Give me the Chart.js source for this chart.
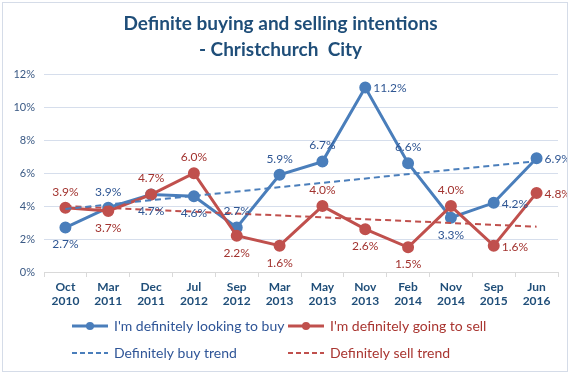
<!DOCTYPE html>
<html>
<head>
<meta charset="utf-8">
<script src="https://cdn.jsdelivr.net/npm/chart.js@4.4.1/dist/chart.umd.min.js"></script>
<style>
html, body { margin: 0; padding: 0; background: #fff; }
#frame { position: absolute; left: 2px; top: 2px; width: 564px; height: 368px; border: 1px solid #d5dce8; }
canvas { display: block; }
</style>
</head>
<body>
<div id="frame"><canvas id="chart" width="564" height="368"></canvas></div>
<script>
// Survey rounds (x axis)
const periods = [
    ['Oct', '2010'], ['Mar', '2011'], ['Dec', '2011'], ['Jul', '2012'],
    ['Sep', '2012'], ['Mar', '2013'], ['May', '2013'], ['Nov', '2013'],
    ['Feb', '2014'], ['Nov', '2014'], ['Sep', '2015'], ['Jun', '2016']
];

// Percent of respondents
const buyValues = [2.7, 3.9, 4.7, 4.6, 2.7, 5.9, 6.7, 11.2, 6.6, 3.3, 4.2, 6.9];
const sellValues = [3.9, 3.7, 4.7, 6.0, 2.2, 1.6, 4.0, 2.6, 1.5, 4.0, 1.6, 4.8];

// Trend lines, read at the first and last survey round
const buyTrend = [3.83, null, null, null, null, null, null, null, null, null, null, 6.73];
const sellTrend = [4.0, null, null, null, null, null, null, null, null, null, null, 2.75];

// Y axis ticks (percent)
const yTicks = [0, 2, 4, 6, 8, 10, 12];

const seriesNames = ["I'm definitely looking to buy", "I'm definitely going to sell",
    'Definitely buy trend', 'Definitely sell trend'];

const BLUE = '#4a7ebb';
const RED = '#c0504d';

// where each value label sits: a = above, b = below, r = right
const buyLabelPos = ['b', 'a', 'b', 'b', 'a', 'a', 'a', 'r', 'a', 'b', 'r', 'r'];
const sellLabelPos = ['a', 'b', 'a', 'a', 'b', 'b', 'a', 'b', 'b', 'a', 'r', 'r'];

const pointLabels = {
    id: 'pointLabels',
    afterDatasetsDraw(chart) {
        const ctx = chart.ctx;
        ctx.save();
        ctx.font = '12px Lato';
        [[0, buyLabelPos, '#2f5693'], [1, sellLabelPos, '#a2332f']].forEach(([i, pos, color]) => {
            const meta = chart.getDatasetMeta(i);
            ctx.fillStyle = color;
            meta.data.forEach((pt, j) => {
                const text = chart.data.datasets[i].data[j].toFixed(1) + '%';
                const p = pos[j];
                ctx.textBaseline = 'middle';
                if (p === 'r') {
                    ctx.textAlign = 'left';
                    ctx.fillText(text, pt.x + 8, pt.y + 1);
                } else {
                    ctx.textAlign = 'center';
                    ctx.fillText(text, pt.x, p === 'a' ? pt.y - 16 : pt.y + 17);
                }
            });
        });
        ctx.restore();
    }
};

// two-column legend under the axis
const gridLegend = {
    id: 'gridLegend',
    afterDraw(chart) {
        const ctx = chart.ctx;
        const cols = [69, 285];
        const rows = [323, 350];
        const items = [
            { name: seriesNames[0], color: BLUE, text: '#2f5597', dot: true },
            { name: seriesNames[1], color: RED, text: '#a93530', dot: true },
            { name: seriesNames[2], color: BLUE, text: '#2f5597', dot: false },
            { name: seriesNames[3], color: RED, text: '#a93530', dot: false }
        ];
        ctx.save();
        ctx.font = '14px Lato';
        ctx.textBaseline = 'middle';
        ctx.textAlign = 'left';
        items.forEach((it, k) => {
            const x = cols[k % 2];
            const y = rows[Math.floor(k / 2)];
            ctx.strokeStyle = it.color;
            ctx.lineWidth = it.dot ? 3 : 2;
            ctx.setLineDash(it.dot ? [] : [5, 3]);
            ctx.beginPath();
            ctx.moveTo(x, y);
            ctx.lineTo(x + 36, y);
            ctx.stroke();
            if (it.dot) {
                ctx.fillStyle = it.color;
                ctx.beginPath();
                ctx.arc(x + 18, y, 4, 0, Math.PI * 2);
                ctx.fill();
            }
            ctx.fillStyle = it.text;
            ctx.fillText(it.name, x + 42, y);
        });
        ctx.restore();
    }
};

const ctx = document.getElementById('chart').getContext('2d');
const chart = new Chart(ctx, {
    type: 'line',
    data: {
        labels: periods,
        datasets: [
            {
                label: seriesNames[0],
                data: buyValues,
                borderColor: BLUE,
                backgroundColor: BLUE,
                borderWidth: 3,
                pointRadius: 4.5,
                pointHoverRadius: 4.5,
                order: 2
            },
            {
                label: seriesNames[1],
                data: sellValues,
                borderColor: RED,
                backgroundColor: RED,
                borderWidth: 3,
                pointRadius: 4.5,
                pointHoverRadius: 4.5,
                order: 1
            },
            {
                label: seriesNames[2],
                data: buyTrend,
                borderColor: BLUE,
                borderWidth: 2,
                borderDash: [6, 4],
                pointRadius: 0,
                spanGaps: true,
                order: 0
            },
            {
                label: seriesNames[3],
                data: sellTrend,
                borderColor: RED,
                borderWidth: 2,
                borderDash: [6, 4],
                pointRadius: 0,
                spanGaps: true,
                order: 0
            }
        ]
    },
    options: {
        responsive: false,
        animation: false,
        layout: { padding: { left: 0, right: 9, bottom: 57 } },
        plugins: {
            legend: { display: false },
            tooltip: { enabled: false },
            title: {
                display: true,
                text: ['Definite buying and selling intentions', '- Christchurch  City'],
                color: '#1f4e79',
                font: { family: 'Lato', size: 19, weight: 'bold', lineHeight: 1.35 },
                padding: { top: 8, bottom: 12 }
            }
        },
        scales: {
            x: {
                offset: true,
                grid: { drawOnChartArea: false, drawTicks: true, tickLength: 5, color: '#d9d9d9', offset: true },
                border: { color: '#d9d9d9' },
                ticks: {
                    color: '#1f4e79',
                    font: { family: 'Lato', size: 12, weight: 'bold' },
                    padding: 3,
                    maxRotation: 0,
                    autoSkip: false
                },
                afterFit: (scale) => { scale.height = 42; }
            },
            y: {
                min: 0,
                max: 12,
                afterBuildTicks: (scale) => { scale.ticks = yTicks.map(v => ({ value: v })); },
                grid: { color: '#d6deec', drawTicks: false },
                border: { display: false },
                ticks: {
                    color: '#3b5a85',
                    font: { family: 'Lato', size: 11 },
                    padding: 9,
                    callback: (v) => v + '%'
                },
                afterFit: (scale) => { scale.width = 41; }
            }
        }
    },
    plugins: [pointLabels, gridLegend]
});
</script>
</body>
</html>
